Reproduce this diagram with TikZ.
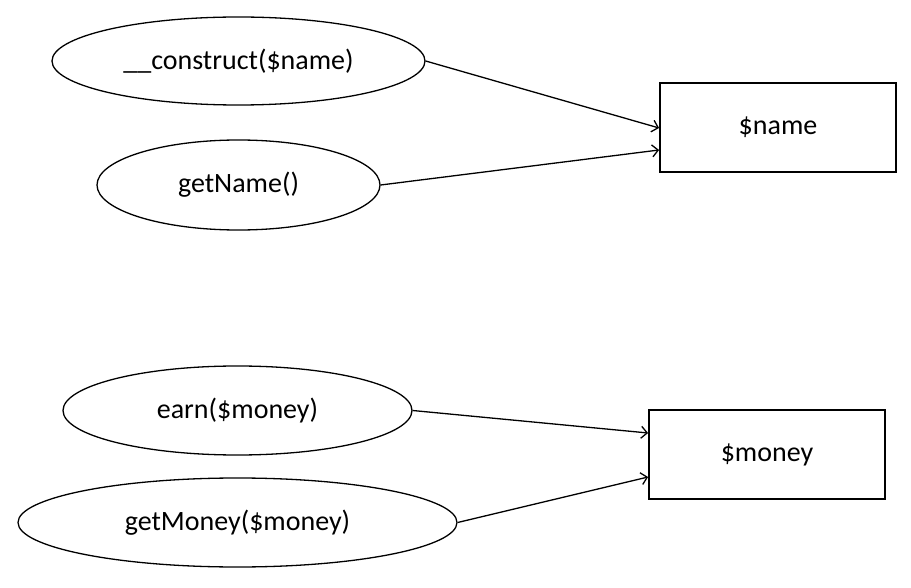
\documentclass[tikz,border=0pt]{standalone}
\usepackage{fontspec}
\setmainfont{Carlito}
\usetikzlibrary{shapes.geometric,arrows.meta}
\begin{document}
\begin{tikzpicture}[x=1pt,y=-1pt,
  meth/.style={draw,ellipse,line width=1.3pt,inner sep=0pt,font=\fontsize{28}{32}\selectfont},
  var/.style={draw,rectangle,line width=1.8pt,inner sep=0pt,minimum width=236pt,minimum height=89pt,font=\fontsize{28}{32}\selectfont},
  link/.style={line width=1.3pt,-{Straight Barb[length=6pt,width=12pt,line width=1.3pt]}}]
\useasboundingbox (0,0) rectangle (911,588);
\node[meth,minimum width=373pt,minimum height=88pt] (c) at (238.5,61) {\_\_construct(\$name)};
\node[meth,minimum width=283pt,minimum height=90pt] (g) at (238.5,185) {getName()};
\node[meth,minimum width=349pt,minimum height=89pt] (e) at (237.5,410.5) {earn(\$money)};
\node[meth,minimum width=439pt,minimum height=89pt] (m) at (237.5,522.5) {getMoney(\$money)};
\node[var] (n) at (778,127.5) {\$name};
\node[var] (y) at (767,454.5) {\$money};
\draw[link] (c.east) -- ([yshift=-0.5pt]n.west);
\draw[link] (g.east) -- ([yshift=-22.5pt]n.west);
\draw[link] (e.east) -- ([yshift=21.5pt]y.west);
\draw[link] (m.east) -- ([yshift=-22.5pt]y.west);
\end{tikzpicture}
\end{document}
